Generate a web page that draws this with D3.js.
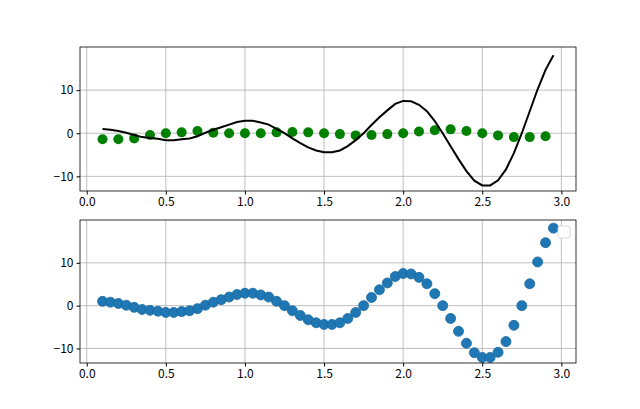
<!DOCTYPE html><html><head><meta charset="utf-8"><script src="https://cdn.jsdelivr.net/npm/d3@7"></script>
<style>body{margin:0;background:#fff}text{font-family:"Noto Sans CJK SC",sans-serif;font-size:12px}</style></head><body>
<svg id="c" width="640" height="409"></svg>
<script>
const curveX = d3.range(58).map(i => +(0.1 + i*0.05).toFixed(2));
const curveY = [1.0,0.8,0.5,0.1,-0.4,-0.9,-1.1,-1.3,-1.6,-1.6,-1.4,-1.2,-0.7,0.1,0.8,1.4,2.0,2.6,2.9,2.9,2.5,2.0,1.0,0.0,-1.2,-2.3,-3.3,-4.0,-4.4,-4.4,-4.0,-3.0,-1.6,0.0,1.9,3.7,5.3,6.8,7.5,7.4,6.6,5.1,2.8,0.0,-3.0,-6.0,-8.8,-11.0,-12.1,-12.1,-10.9,-8.4,-4.6,0.0,5.1,10.2,14.7,18.1];
const noiseX = d3.range(29).map(i => +(0.1 + i*0.1).toFixed(1));
const noiseY = [-1.4,-1.4,-1.2,-0.4,0,0.2,0.5,0.1,0,0,0,0.2,0.3,0.2,0,-0.2,-0.5,-0.4,-0.2,0,0.4,0.7,0.9,0.5,0,-0.5,-0.9,-0.9,-0.7];
const xTicks = [0.0,0.5,1.0,1.5,2.0,2.5,3.0];
const yTicks = [-10,0,10];

const svg = d3.select("#c");
const x = d3.scaleLinear().domain([-0.0425,3.0925]).range([80,576]);
function panel(top, bottom){
  const y = d3.scaleLinear().domain([-13.4,20]).range([bottom,top]);
  const g = svg.append("g");
  g.selectAll(".gx").data(xTicks).join("line").attr("x1",d=>x(d)).attr("x2",d=>x(d)).attr("y1",top).attr("y2",bottom).attr("stroke","#b0b0b0").attr("stroke-width",0.8);
  g.selectAll(".gy").data(yTicks).join("line").attr("y1",d=>y(d)).attr("y2",d=>y(d)).attr("x1",80).attr("x2",576).attr("stroke","#b0b0b0").attr("stroke-width",0.8);
  return {g,y,top,bottom};
}
function axes(p){
  p.g.append("g").attr("transform",`translate(0,${p.bottom})`).call(d3.axisBottom(x).tickValues(xTicks).tickFormat(d3.format(".1f")).tickSize(3.5).tickPadding(3)).call(a=>a.select(".domain").remove());
  p.g.append("g").attr("transform",`translate(80,0)`).call(d3.axisLeft(p.y).tickValues(yTicks).tickSize(3.5).tickPadding(3)).call(a=>a.select(".domain").remove());
  p.g.append("rect").attr("x",80).attr("y",p.top).attr("width",496).attr("height",p.bottom-p.top).attr("fill","none").attr("stroke","#000").attr("stroke-width",0.8);
  p.g.selectAll(".tick text").attr("fill","#000").style("font-size","12px").style("font-family","'Noto Sans CJK SC',sans-serif");
}
const p1 = panel(47,191);
p1.g.selectAll(".n").data(noiseX).join("circle").attr("cx",d=>x(d)).attr("cy",(d,i)=>p1.y(noiseY[i])).attr("r",5).attr("fill","green");
p1.g.append("path").datum(curveX).attr("d",d3.line().x(d=>x(d)).y((d,i)=>p1.y(curveY[i]))).attr("fill","none").attr("stroke","#000").attr("stroke-width",2);
axes(p1);
const p2 = panel(220,363);
p2.g.selectAll(".m").data(curveX).join("circle").attr("cx",d=>x(d)).attr("cy",(d,i)=>p2.y(curveY[i])).attr("r",5).attr("fill","#1f77b4").attr("stroke","#1a6aa0").attr("stroke-width",0.8);
axes(p2);
svg.append("rect").attr("x",558).attr("y",226).attr("width",12).attr("height",12).attr("rx",2).attr("fill","#fff").attr("stroke","#ccc").attr("stroke-width",0.8);
</script></body></html>
